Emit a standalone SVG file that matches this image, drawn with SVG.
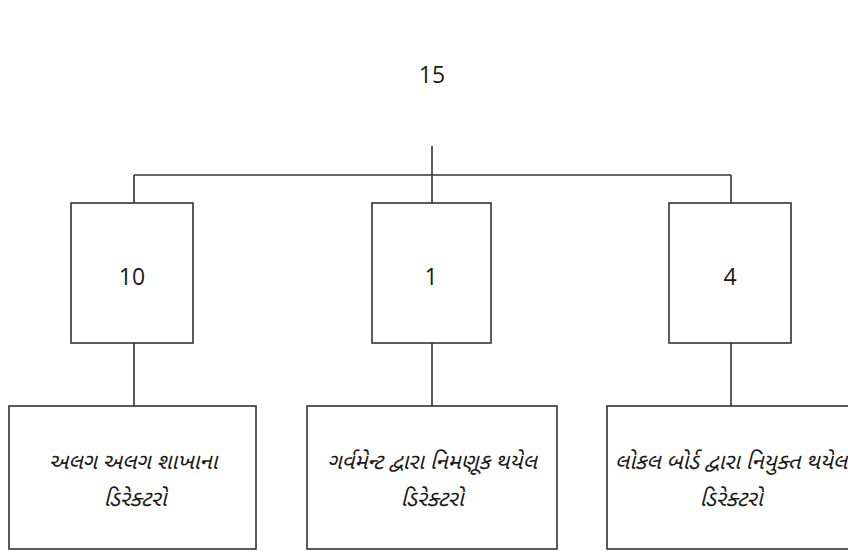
<svg xmlns="http://www.w3.org/2000/svg" width="848" height="554" viewBox="0 0 848 554">
<style>
.box{fill:#ffffff;stroke:#333333;stroke-width:1.6}
.ln{stroke:#333333;stroke-width:1.6;fill:none}
.num{font-family:"Open Sans","Liberation Sans",sans-serif;font-size:23px;fill:#1a1a1a;text-anchor:middle}
.gu{font-family:"Noto Sans Gujarati","Lohit Gujarati","Noto Sans",sans-serif;font-size:22px;font-style:italic;fill:#1a1a1a;text-anchor:middle}
</style>
<rect width="848" height="554" fill="#ffffff"/>
<g id="connectors">
<line class="ln" x1="432" y1="146" x2="432" y2="203"/>
<line class="ln" x1="134" y1="175" x2="731" y2="175"/>
<line class="ln" x1="134" y1="175" x2="134" y2="203"/>
<line class="ln" x1="731" y1="175" x2="731" y2="203"/>
<line class="ln" x1="134" y1="343" x2="134" y2="406"/>
<line class="ln" x1="432" y1="343" x2="432" y2="406"/>
<line class="ln" x1="731" y1="343" x2="731" y2="406"/>
</g>
<g id="root">
<text class="num" x="432" y="83">15</text>
</g>
<g id="n10">
<rect class="box" x="71" y="203" width="122" height="140"/>
<text class="num" x="132" y="285">10</text>
</g>
<g id="n1">
<rect class="box" x="372" y="203" width="119" height="140"/>
<text class="num" x="431" y="285">1</text>
</g>
<g id="n4">
<rect class="box" x="669" y="203" width="122" height="140"/>
<text class="num" x="730" y="285">4</text>
</g>
<g id="b1">
<rect class="box" x="9" y="406" width="247" height="143"/>
<text class="gu" x="133" y="469">અલગ અલગ શાખાના</text>
<text class="gu" x="135" y="506">ડિરેક્ટરો</text>
</g>
<g id="b2">
<rect class="box" x="307" y="406" width="250" height="143"/>
<text class="gu" x="432" y="469">ગર્વમેન્ટ દ્વારા નિમણૂક થયેલ</text>
<text class="gu" x="432" y="506">ડિરેક્ટરો</text>
</g>
<g id="b3">
<rect class="box" x="607" y="406" width="250" height="143"/>
<text class="gu" x="731" y="469">લોકલ બોર્ડ દ્વારા નિયુક્ત થયેલ</text>
<text class="gu" x="731" y="506">ડિરેક્ટરો</text>
</g>
</svg>
